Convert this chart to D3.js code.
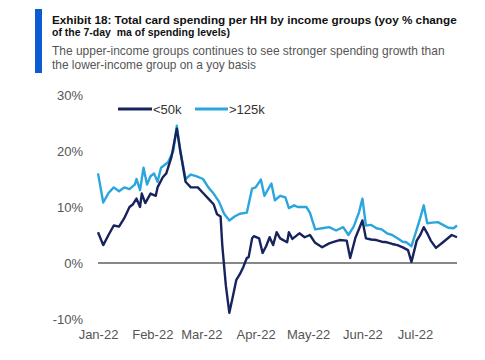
<!DOCTYPE html>
<html>
<head>
<meta charset="utf-8">
<script src="https://cdn.jsdelivr.net/npm/d3@7"></script>
<style>
  html, body { margin: 0; padding: 0; background: #fff; }
  svg { display: block; }
  text { font-family: "Liberation Sans Narrow", "Liberation Sans", Arial, sans-serif; }
</style>
</head>
<body>
<svg id="chart" width="485" height="360"></svg>
<script>
// ---- Data (day offsets from 2022-01-01, yoy % values) ----
const lowDays = [0,3,6,9,12,15,18,20,22,24,25,27,30,33,34,37,39,42,45,47,50,53,57,60,63,66,68,70,71,73,75,77,79,81,83,85,86,88,89,92,94,96,98,100,102,104,108,109,111,115,118,121,124,128,132,135,138,142,144,147,151,153,156,159,162,165,168,171,174,177,179,182,184,186,188,190,193,197,202,205];
const lowValues = [5.5,3.2,5,6.7,6.5,8,10,10.5,11.5,10,12.4,10.7,12.4,12,13.5,15.3,16,19,24,20,14.5,13.5,13.5,12.5,11.5,10.5,8.7,8.3,3,-4,-8.9,-6,-3,-2,-0.7,0.9,1,4.4,4.8,4.4,1.8,3,4.6,3.2,5.5,4.4,3.7,5.5,4.3,5.3,4.6,5,3.6,2.8,3.5,3.8,4.1,4,0.9,4.5,7.6,4.4,4.2,4.1,3.8,3.7,3.4,3.2,2.8,2.3,0.2,4,5,6.4,5.3,4,2.7,3.7,5,4.6];

const highDays = [0,3,6,9,12,15,18,21,22,24,26,28,30,32,34,36,38,40,43,45,47,50,53,56,60,63,66,69,72,75,78,81,85,88,90,93,95,99,101,104,107,109,112,114,119,121,124,128,132,136,140,143,146,149,151,153,156,159,162,165,168,171,174,176,179,182,184,186,188,191,194,197,200,203,205];
const highValues = [16,10.8,12.5,13.5,12.8,13.5,13.2,14,15,13,17,14,15.5,16,14.5,17,17.5,18,20,24.5,20,15,15.8,15.5,15,13.5,12.4,11,8.8,7.6,8.3,8.8,9,13.3,13.5,14.9,12,14.2,11.2,12,11.7,9.8,10.3,10,10,9,6,6.2,6.4,5.8,6.4,5,6.5,9,11.5,6.7,6.8,6.2,6,5.3,5,4.4,3.8,3.7,3,6,8,10.3,7.1,7.2,7.3,6.8,6.3,6.2,6.7];

const seriesNames = ["<50k", ">125k"];
const yTicks = [-10, 0, 10, 20, 30];
const xTickLabels = ["Jan-22","Feb-22","Mar-22","Apr-22","May-22","Jun-22","Jul-22"];
const xTickDates = ["2022-01-01","2022-02-01","2022-03-01","2022-04-01","2022-05-01","2022-06-01","2022-07-01"];

const titleLines = ["Exhibit 18: Total card spending per HH by income groups (yoy % change", "of the 7-day  ma of spending levels)"];
const subtitleLines = ["The upper-income groups continues to see stronger spending growth than", "the lower-income group on a yoy basis"];

// ---- Setup ----
const svg = d3.select("#chart");
const start = new Date(2022, 0, 1);
const toDate = d => d3.timeDay.offset(start, d);
const parse = d3.timeParse("%Y-%m-%d");

const x = d3.scaleTime().domain([start, toDate(205)]).range([98, 457]);
const y = d3.scaleLinear().domain([-10, 30]).range([319, 95]);

const darkColor = "#17235c";
const lightColor = "#2aa6dc";

// Fit text to a target width by adjusting font size
function fitText(sel, width, maxSize) {
  sel.attr("font-size", maxSize);
  const w = sel.node().getComputedTextLength();
  if (w > 0) sel.attr("font-size", Math.min(maxSize * 1.3, maxSize * width / w).toFixed(2));
  return sel;
}

// Title block
svg.append("rect").attr("x", 35).attr("y", 9).attr("width", 7).attr("height", 64).attr("fill", "#0b5bd3");
fitText(svg.append("text").attr("x", 52).attr("y", 24).attr("font-weight", "bold").attr("fill", "#111")
  .text(titleLines[0]), 405, 13);
fitText(svg.append("text").attr("x", 52).attr("y", 36).attr("font-weight", "bold").attr("fill", "#111")
  .attr("xml:space", "preserve").text(titleLines[1]), 178, 13);
fitText(svg.append("text").attr("x", 52).attr("y", 55).attr("fill", "#555").text(subtitleLines[0]), 393, 13);
fitText(svg.append("text").attr("x", 52).attr("y", 69).attr("fill", "#555").text(subtitleLines[1]), 204, 13);

// Y axis (labels only)
const yAxis = d3.axisLeft(y).tickValues(yTicks).tickFormat(d => d + "%").tickSize(0).tickPadding(0);
const gy = svg.append("g").attr("transform", "translate(83,0)").call(yAxis);
gy.select(".domain").remove();
gy.selectAll("text").attr("font-size", 13).attr("fill", "#555")
  .style("font-family", '"Liberation Sans Narrow", "Liberation Sans", Arial, sans-serif');

// X axis (labels only)
const xAxis = d3.axisBottom(x).tickValues(xTickDates.map(parse))
  .tickFormat((d, i) => xTickLabels[i]).tickSize(0).tickPadding(0);
const gx = svg.append("g").attr("transform", "translate(0,330)").call(xAxis);
gx.select(".domain").remove();
gx.selectAll("text").attr("font-size", 13).attr("fill", "#555")
  .style("font-family", '"Liberation Sans Narrow", "Liberation Sans", Arial, sans-serif');

// Zero line
svg.append("line").attr("x1", x(start)).attr("x2", x(toDate(205)))
  .attr("y1", y(0)).attr("y2", y(0)).attr("stroke", "#111").attr("stroke-width", 1.2);

// Lines
const line = d3.line().x(d => x(toDate(d[0]))).y(d => y(d[1]));
const highData = highDays.map((d, i) => [d, highValues[i]]);
const lowData = lowDays.map((d, i) => [d, lowValues[i]]);

svg.append("path").datum(highData).attr("d", line).attr("fill", "none")
  .attr("stroke", lightColor).attr("stroke-width", 2.4).attr("stroke-linejoin", "round");
svg.append("path").datum(lowData).attr("d", line).attr("fill", "none")
  .attr("stroke", darkColor).attr("stroke-width", 2.4).attr("stroke-linejoin", "round");

// Legend
const legend = [
  { name: seriesNames[0], color: darkColor, x1: 118, x2: 152, tx: 153 },
  { name: seriesNames[1], color: lightColor, x1: 195, x2: 228, tx: 229 }
];
legend.forEach(l => {
  svg.append("line").attr("x1", l.x1).attr("x2", l.x2).attr("y1", 109).attr("y2", 109)
    .attr("stroke", l.color).attr("stroke-width", 3);
  svg.append("text").attr("x", l.tx).attr("y", 114).attr("font-size", 13).attr("fill", "#333").text(l.name);
});
</script>
</body>
</html>
